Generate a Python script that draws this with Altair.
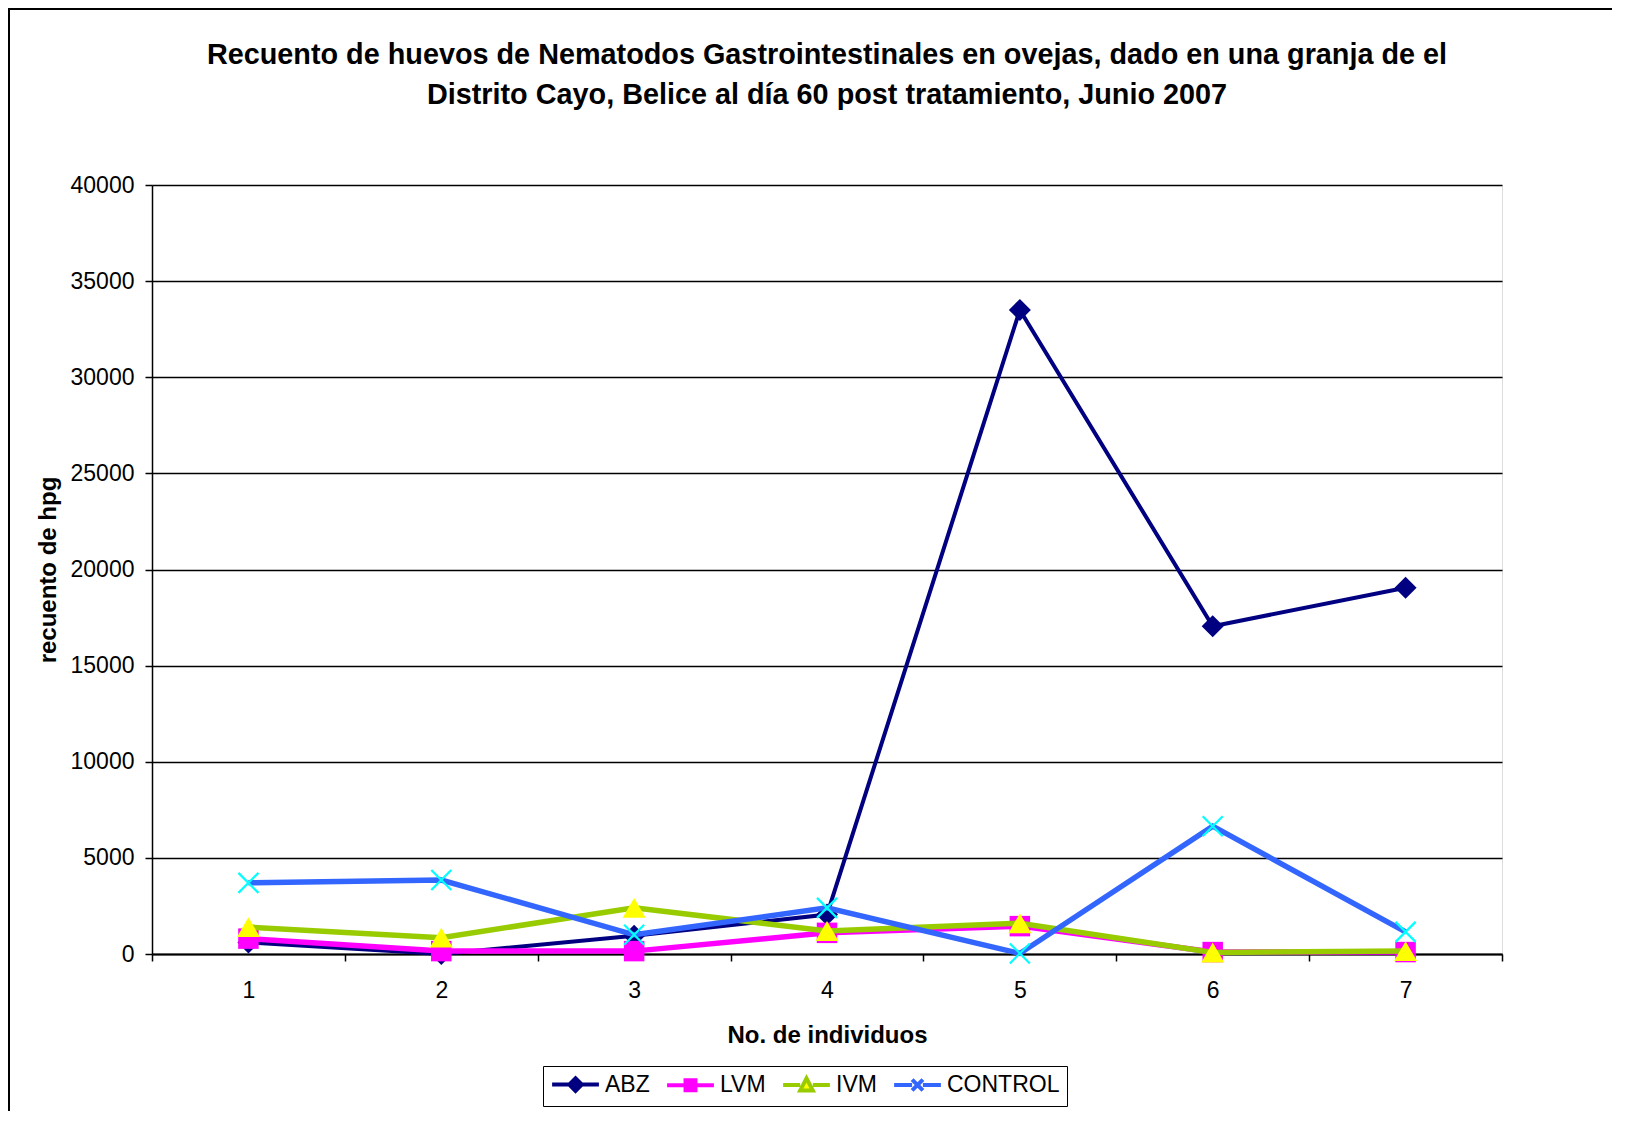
import altair as alt
import pandas as pd

# ---- data ----
individuos = [1, 2, 3, 4, 5, 6, 7]
series = ["ABZ", "LVM", "IVM", "CONTROL"]
abz = [600, 0, 950, 2050, 33500, 17050, 19050]
lvm = [800, 150, 150, 1100, 1450, 100, 100]
ivm = [1400, 850, 2400, 1200, 1600, 80, 150]
control = [3700, 3850, 1000, 2400, 30, 6650, 1150]
y_ticks = [0, 5000, 10000, 15000, 20000, 25000, 30000, 35000, 40000]
titulo = ["Recuento de huevos de Nematodos Gastrointestinales en ovejas, dado en una granja de el",
          "Distrito Cayo, Belice al día 60 post tratamiento, Junio 2007"]
x_titulo = "No. de individuos"
y_titulo = "recuento de hpg"

# ---- styles ----
line_colors = ["#000080", "#FF00FF", "#99CC00", "#3366FF"]
marker_colors = ["#000080", "#FF00FF", "#FFFF00", "#00FFFF"]
line_widths = [4, 5.5, 5.5, 5.5]
x_path = "M-1,-1L1,1M-1,1L1,-1"
marker_shapes = ["diamond", "square", "triangle-up", x_path]
marker_sizes = [484, 420, 529, 400]
legend_paths = [
    "M-2.6,0H2.6M-0.7,0L0,-0.7L0.7,0L0,0.7Z",
    "M-2.6,0H2.6M-0.55,-0.55H0.55V0.55H-0.55Z",
    "M-2.6,0H-0.7M0.7,0H2.6M-0.7,0.6L0.7,0.6L0,-0.75Z",
    "M-2.6,0H-0.6M0.6,0H2.6M-0.6,-0.6L0.6,0.6M-0.6,0.6L0.6,-0.6",
]
FONT = "Liberation Sans"

values = {"ABZ": abz, "LVM": lvm, "IVM": ivm, "CONTROL": control}
rows = []
for s in series:
    for i, v in zip(individuos, values[s]):
        rows.append({"ind": i, "serie": s, "valor": v})
df = pd.DataFrame(rows)

x_tick_vals = sorted(individuos + [i - 0.5 for i in individuos] + [individuos[-1] + 0.5])

X = alt.X(
    "ind:Q",
    scale=alt.Scale(domain=[individuos[0] - 0.5, individuos[-1] + 0.5], nice=False, zero=False),
    axis=alt.Axis(
        values=x_tick_vals,
        labelExpr="(datum.value % 1 === 0) ? ('' + datum.value) : ''",
        tickOpacity={"condition": {"test": "datum.value % 1 === 0", "value": 0}, "value": 1},
        grid=False,
        title=x_titulo,
        labelFontSize=23,
        labelPadding=18,
        labelColor="black",
        labelFont=FONT,
        tickSize=7,
        tickColor="black",
        tickWidth=1.5,
        domainColor="black",
        domainWidth=2,
        titleFontSize=24,
        titleFont=FONT,
        titleFontWeight="bold",
        titleColor="black",
        titlePadding=21,
        labelFlush=False,
        labelOverlap=False,
    ),
)
Y = alt.Y(
    "valor:Q",
    scale=alt.Scale(domain=[0, 40000], nice=False),
    axis=alt.Axis(
        values=y_ticks,
        format="d",
        grid=True,
        gridColor="black",
        gridWidth=1.3,
        gridOpacity=1,
        title=y_titulo,
        labelFontSize=23,
        labelPadding=11,
        labelColor="black",
        labelFont=FONT,
        tickSize=7,
        tickColor="black",
        tickWidth=1.5,
        domainColor="black",
        domainWidth=1.5,
        titleFontSize=24,
        titleFont=FONT,
        titleFontWeight="bold",
        titleColor="black",
        titlePadding=10,
    ),
)

base = alt.Chart(df)
layers = []

# frame around whole chart (decoration only)
frame = alt.Chart(pd.DataFrame({"a": [0]})).mark_rect(
    fillOpacity=0, stroke="black", strokeWidth=2
).encode(
    x=alt.value(-143), y=alt.value(-176), x2=alt.value(1700), y2=alt.value(1100)
)
layers.append(frame)

for s, lc, mc, lw, sh, sz in zip(series, line_colors, marker_colors, line_widths, marker_shapes, marker_sizes):
    sub = base.transform_filter(alt.datum.serie == s)
    layers.append(sub.mark_line(color=lc, strokeWidth=lw).encode(x=X, y=Y))
    if s == "CONTROL":
        layers.append(sub.mark_point(shape=sh, size=sz, stroke=mc, strokeWidth=2.2, filled=False, opacity=1).encode(x=X, y=Y))
    else:
        layers.append(sub.mark_point(shape=sh, size=sz, fill=mc, filled=True, strokeWidth=0, opacity=1).encode(x=X, y=Y))

leg_def = alt.Legend(
    orient="none",
    legendX=391,
    legendY=881,
    direction="horizontal",
    title=None,
    strokeColor="black",
    fillColor="white",
    padding=7,
    symbolSize=324,
    symbolStrokeWidth=4,
    symbolOpacity=1,
    symbolOffset=14,
    labelFontSize=23,
    labelFont=FONT,
    labelColor="black",
    labelOffset=18,
    columnPadding=9,
)
legend_layer = base.transform_filter("datum.valor < 0").mark_point(filled=True).encode(
    x=X,
    y=Y,
    shape=alt.Shape("serie:N", scale=alt.Scale(domain=series, range=legend_paths), legend=leg_def),
    fill=alt.Fill("serie:N", scale=alt.Scale(domain=series, range=marker_colors), legend=leg_def),
    stroke=alt.Stroke("serie:N", scale=alt.Scale(domain=series, range=line_colors), legend=leg_def),
)
layers.append(legend_layer)

chart = alt.layer(*layers).properties(
    width=1350,
    height=769,
    padding={"left": 144, "top": 177, "right": 110, "bottom": 157},
    autosize=alt.AutoSizeParams(type="none"),
    title=alt.TitleParams(
        text=titulo,
        fontSize=28.8,
        font=FONT,
        fontWeight="bold",
        color="black",
        anchor="middle",
        frame="group",
        offset=-102,
        lineHeight=40,
    ),
).configure_view(stroke="black", strokeWidth=1.5).configure_legend(strokeWidth=2).configure(font=FONT)

chart.save("out.html", embed_options={"renderer": "svg", "actions": False})
